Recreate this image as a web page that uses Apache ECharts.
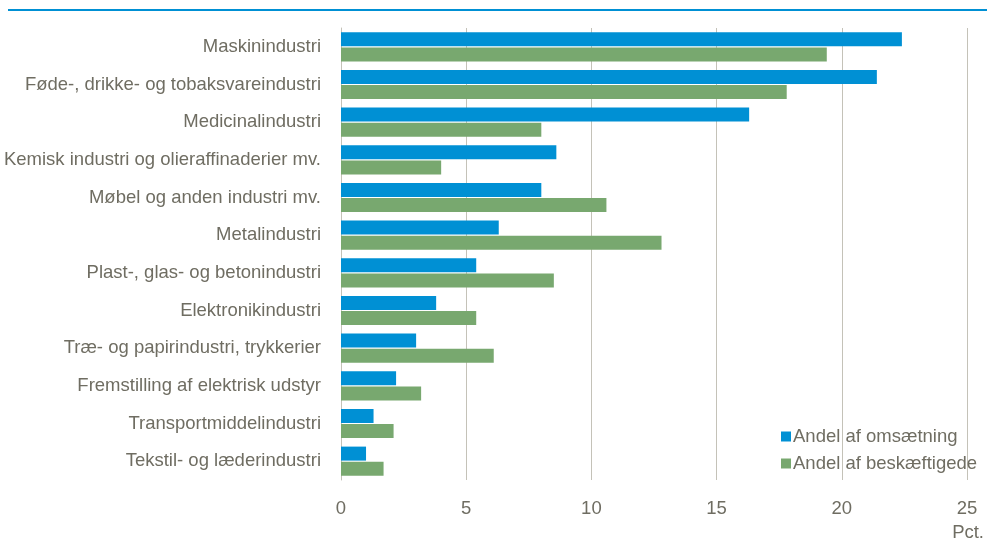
<!DOCTYPE html>
<html>
<head>
<meta charset="utf-8">
<script src="https://cdn.jsdelivr.net/npm/echarts@6/dist/echarts.min.js"></script>
<style>html,body{margin:0;padding:0;background:#fff;}#c{width:987px;height:542px;}</style>
</head>
<body>
<div id="c"></div>
<script>
const categories = [
  'Maskinindustri',
  'Føde-, drikke- og tobaksvareindustri',
  'Medicinalindustri',
  'Kemisk industri og olieraffinaderier mv.',
  'Møbel og anden industri mv.',
  'Metalindustri',
  'Plast-, glas- og betonindustri',
  'Elektronikindustri',
  'Træ- og papirindustri, trykkerier',
  'Fremstilling af elektrisk udstyr',
  'Transportmiddelindustri',
  'Tekstil- og læderindustri'
];
const omsaetning = [22.4, 21.4, 16.3, 8.6, 8.0, 6.3, 5.4, 3.8, 3.0, 2.2, 1.3, 1.0];
const beskaeftigede = [19.4, 17.8, 8.0, 4.0, 10.6, 12.8, 8.5, 5.4, 6.1, 3.2, 2.1, 1.7];
const seriesNames = ['Andel af omsætning', 'Andel af beskæftigede'];
const xTicks = [0, 5, 10, 15, 20, 25];
const unitLabel = 'Pct.';

const FONT = '"Liberation Sans", Arial, sans-serif';
const FS = 18.5;
const TXT = '#6f6d62';
const chart = echarts.init(document.getElementById('c'), null, {renderer: 'canvas'});
chart.setOption({
  animation: false,
  backgroundColor: '#fff',
  textStyle: {fontFamily: FONT, color: TXT},
  grid: {left: 341, right: 20, top: 28, bottom: 62, containLabel: false, outerBoundsMode: 'none'},
  legend: {
    orient: 'vertical', left: 776, top: 422,
    itemWidth: 10, itemHeight: 10, itemGap: 8,
    icon: 'rect',
    textStyle: {fontFamily: FONT, fontSize: FS, color: TXT, padding: [0, 0, 0, -3]},
    data: seriesNames
  },
  xAxis: {
    type: 'value', min: xTicks[0], max: xTicks[xTicks.length - 1], interval: 5,
    axisLine: {show: false}, axisTick: {show: false},
    splitLine: {lineStyle: {color: '#c4c2b8', width: 1}},
    axisLabel: {fontFamily: FONT, fontSize: FS, color: TXT, margin: 19}
  },
  yAxis: {
    type: 'category', data: categories, inverse: true,
    axisLine: {lineStyle: {color: '#c4c2b8'}}, axisTick: {show: false},
    axisLabel: {fontFamily: FONT, fontSize: FS, color: TXT, margin: 20}
  },
  series: [
    {name: seriesNames[0], type: 'bar', data: omsaetning, barWidth: 14, barGap: '8%', barCategoryGap: '23%',
     itemStyle: {color: '#0090d4'}},
    {name: seriesNames[1], type: 'bar', data: beskaeftigede, barWidth: 14, barGap: '8%', barCategoryGap: '23%',
     itemStyle: {color: '#78a86f'}}
  ],
  graphic: [
    {type: 'rect', left: 8, top: 9, shape: {width: 979, height: 2}, style: {fill: '#0090d4'}, silent: true},
    {type: 'text', right: 3, top: 523, style: {text: unitLabel, fontFamily: FONT, fontSize: FS, fill: TXT}}
  ]
});
</script>
</body>
</html>
